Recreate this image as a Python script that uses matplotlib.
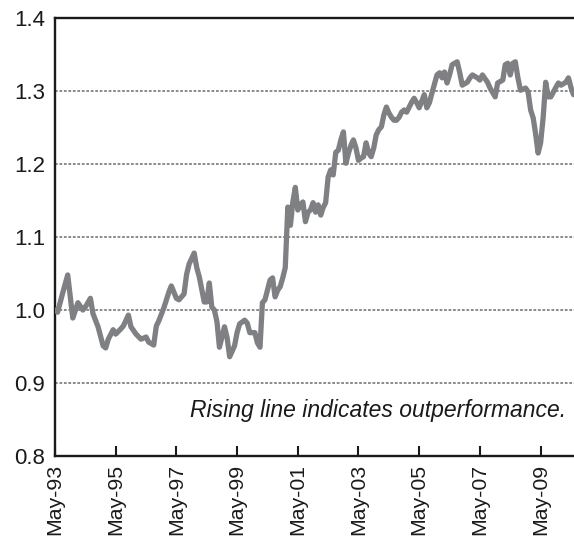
import matplotlib
matplotlib.use("Agg")
import matplotlib.pyplot as plt
import pandas as pd

dates = [
    "1993-05", "1993-06", "1993-08", "1993-10", "1993-12", "1994-02", "1994-04", "1994-05",
    "1994-07", "1994-08", "1994-10", "1994-12", "1995-01", "1995-02", "1995-04", "1995-05",
    "1995-07", "1995-08", "1995-10", "1995-11", "1996-01", "1996-03", "1996-05", "1996-06",
    "1996-08", "1996-09", "1996-10", "1996-12", "1997-02", "1997-03", "1997-05", "1997-06",
    "1997-08", "1997-09", "1997-10", "1997-12", "1998-01", "1998-02", "1998-04", "1998-05",
    "1998-06", "1998-07", "1998-08", "1998-09", "1998-10", "1998-12", "1999-01", "1999-02",
    "1999-04", "1999-05", "1999-06", "1999-08", "1999-09", "1999-10", "1999-12", "2000-01",
    "2000-02", "2000-03", "2000-04", "2000-06", "2000-07", "2000-08", "2000-09", "2000-10",
    "2000-11", "2000-12", "2001-01", "2001-02", "2001-03", "2001-04",
    "2001-05", "2001-06", "2001-07", "2001-08", "2001-09", "2001-10", "2001-11", "2001-12",
    "2002-01", "2002-02", "2002-03", "2002-04",
    "2002-05", "2002-06", "2002-07", "2002-08", "2002-09", "2002-10", "2002-11", "2002-12",
    "2003-01", "2003-02", "2003-03", "2003-04",
    "2003-05", "2003-06", "2003-07", "2003-08", "2003-09", "2003-10", "2003-11", "2003-12",
    "2004-01", "2004-02", "2004-03", "2004-04",
    "2004-05", "2004-06", "2004-07", "2004-08", "2004-09", "2004-10", "2004-11", "2004-12",
    "2005-02", "2005-03", "2005-04",
    "2005-05", "2005-07", "2005-08", "2005-09", "2005-10", "2005-12", "2006-01", "2006-02",
    "2006-03", "2006-04",
    "2006-05", "2006-06", "2006-08", "2006-09", "2006-10", "2006-12", "2007-01", "2007-02",
    "2007-04",
    "2007-05", "2007-06", "2007-08", "2007-09", "2007-11", "2007-12", "2008-02", "2008-03",
    "2008-04",
    "2008-05", "2008-06", "2008-07", "2008-08", "2008-09", "2008-11", "2008-12", "2009-01",
    "2009-02", "2009-03", "2009-04",
    "2009-05", "2009-06", "2009-07", "2009-08", "2009-09", "2009-11", "2009-12", "2010-01",
    "2010-03", "2010-04", "2010-05", "2010-06", "2010-07",
]

relative_performance = [
    1.000, 0.997, 1.023, 1.048, 0.989, 1.010, 1.000, 1.004,
    1.016, 0.995, 0.977, 0.951, 0.948, 0.960, 0.973, 0.967,
    0.974, 0.978, 0.993, 0.977, 0.967, 0.960, 0.963, 0.956,
    0.952, 0.978, 0.985, 1.003, 1.025, 1.033, 1.016, 1.014,
    1.022, 1.049, 1.063, 1.078, 1.058, 1.045, 1.011, 1.011,
    1.037, 1.004, 1.000, 0.984, 0.949, 0.977, 0.962, 0.936,
    0.951, 0.969, 0.981, 0.986, 0.982, 0.969, 0.969, 0.955,
    0.949, 1.010, 1.014, 1.041, 1.044, 1.018, 1.027, 1.032,
    1.044, 1.058, 1.141, 1.116, 1.147, 1.168,
    1.137, 1.144, 1.148, 1.121, 1.134, 1.137, 1.147, 1.134,
    1.144, 1.130, 1.140, 1.147,
    1.182, 1.192, 1.185, 1.216, 1.219, 1.233, 1.244, 1.201,
    1.215, 1.226, 1.233, 1.222,
    1.205, 1.208, 1.210, 1.229, 1.215, 1.210, 1.222, 1.240,
    1.247, 1.251, 1.267, 1.278,
    1.270, 1.264, 1.260, 1.260, 1.264, 1.271, 1.274, 1.271,
    1.285, 1.290, 1.284,
    1.277, 1.295, 1.277, 1.284, 1.297, 1.322, 1.325, 1.318,
    1.326, 1.311,
    1.322, 1.336, 1.340, 1.325, 1.308, 1.312, 1.318, 1.322,
    1.318,
    1.315, 1.322, 1.312, 1.304, 1.292, 1.311, 1.315, 1.336,
    1.338,
    1.322, 1.338, 1.340, 1.318, 1.301, 1.304, 1.299, 1.274,
    1.263, 1.242, 1.215,
    1.229, 1.264, 1.312, 1.292, 1.292, 1.305, 1.311, 1.308,
    1.312, 1.318, 1.305, 1.295, 1.297,
]

tick_dates = ["1993-05", "1995-05", "1997-05", "1999-05", "2001-05",
              "2003-05", "2005-05", "2007-05", "2009-05"]
tick_labels = ["May-93", "May-95", "May-97", "May-99", "May-01",
               "May-03", "May-05", "May-07", "May-09"]
y_ticks = [0.8, 0.9, 1.0, 1.1, 1.2, 1.3, 1.4]
y_tick_labels = ["0.8", "0.9", "1.0", "1.1", "1.2", "1.3", "1.4"]
grid_levels = [0.9, 1.0, 1.1, 1.2, 1.3]
note = "Rising line indicates outperformance."

plt.rcParams["font.family"] = ["Liberation Sans", "DejaVu Sans"]

x = pd.to_datetime(dates)
fig = plt.figure(figsize=(5.74, 5.40), dpi=100)
ax = fig.add_axes([55 / 574, 84 / 540, 1 - 55 / 574 + 0.01, 438 / 540])

for g in grid_levels:
    ax.axhline(g, color="#8a8a8a", lw=1.4, ls=(0, (1.4, 0.9)), zorder=1)

ax.plot(x, relative_performance, color="#7f8083", lw=3.8,
        solid_joinstyle="round", solid_capstyle="round", zorder=3)

ax.set_ylim(0.8, 1.4)
ax.set_xlim(pd.Timestamp("1993-05-01"), pd.Timestamp("2010-08-15"))
ax.set_yticks(y_ticks)
ax.set_yticklabels(y_tick_labels)
ax.set_xticks(pd.to_datetime(tick_dates))
ax.set_xticklabels(tick_labels, rotation=90, va="top", ha="center")

ax.tick_params(axis="y", length=0, pad=7, labelsize=16, labelcolor="#1a1a1a")
ax.tick_params(axis="x", direction="in", length=7.5, width=1.5, pad=6,
               labelsize=15.3, labelcolor="#1a1a1a", color="#1a1a1a")

for side in ["left", "top", "bottom"]:
    ax.spines[side].set_linewidth(1.7)
    ax.spines[side].set_color("#1a1a1a")
ax.spines["right"].set_visible(False)

ax.text(0.975, 0.105, note, transform=ax.transAxes, ha="right", va="center",
        fontsize=16.5, style="italic", color="#1a1a1a")

fig.savefig("out.png", dpi=100)
